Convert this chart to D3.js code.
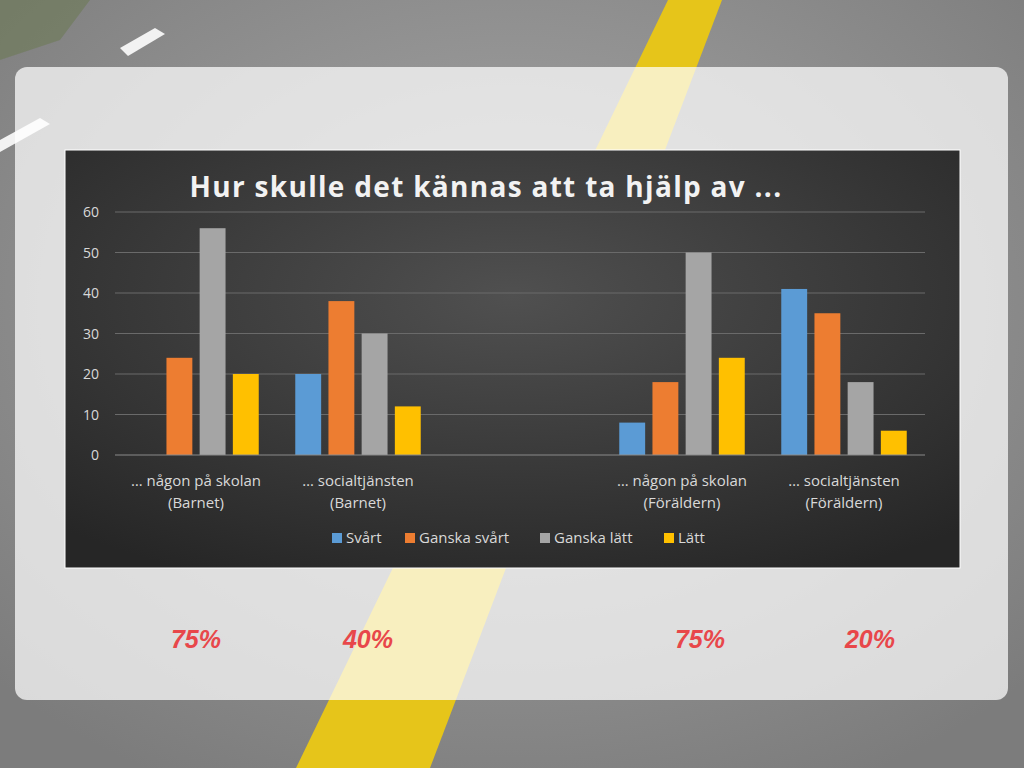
<!DOCTYPE html>
<html><head><meta charset="utf-8">
<script src="https://cdn.jsdelivr.net/npm/d3@7"></script>
<style>body{margin:0;overflow:hidden}</style>
</head><body>
<svg id="c" width="1024" height="768"></svg>
<script>
const categories = ["… någon på skolan|(Barnet)", "… socialtjänsten|(Barnet)", "", "… någon på skolan|(Föräldern)", "… socialtjänsten|(Föräldern)"];
const seriesNames = ["Svårt", "Ganska svårt", "Ganska lätt", "Lätt"];
const seriesColors = ["#5b9bd5", "#ed7d31", "#a5a5a5", "#ffc000"];
const svart = [0, 20, null, 8, 41];
const ganskaSvart = [24, 38, null, 18, 35];
const ganskaLatt = [56, 30, null, 50, 18];
const latt = [20, 12, null, 24, 6];
const yTicks = [0, 10, 20, 30, 40, 50, 60];
const percents = ["75%", "40%", "", "75%", "20%"];
const values = [svart, ganskaSvart, ganskaLatt, latt];

const svg = d3.select("#c");
const defs = svg.append("defs");

// road background
svg.append("rect").attr("width", 1024).attr("height", 768).attr("fill", "#8f8f8f");
const rg = defs.append("radialGradient").attr("id", "road").attr("cx", "50%").attr("cy", "40%").attr("r", "70%");
rg.append("stop").attr("offset", "0%").attr("stop-color", "#a8a8a8");
rg.append("stop").attr("offset", "100%").attr("stop-color", "#7c7c7c");
svg.append("rect").attr("width", 1024).attr("height", 768).attr("fill", "url(#road)");
svg.append("path").attr("d", "M0,0 L90,0 L60,40 L0,60 Z").attr("fill", "#6d7a55").attr("opacity", 0.6);
svg.append("polygon").attr("points", "668,0 722,0 430,768 296,768").attr("fill", "#e6c51a");
svg.append("polygon").attr("points", "120,48 155,28 165,34 128,56").attr("fill", "#f2f2f2");
svg.append("polygon").attr("points", "0,140 40,118 50,124 0,152").attr("fill", "#f2f2f2");

// translucent panel
svg.append("rect").attr("x", 15).attr("y", 67).attr("width", 993).attr("height", 633).attr("rx", 12)
  .attr("fill", "#ffffff").attr("opacity", 0.72);

// chart area
const cg = defs.append("radialGradient").attr("id", "chartbg").attr("cx", "50%").attr("cy", "35%").attr("r", "75%");
cg.append("stop").attr("offset", "0%").attr("stop-color", "#505050");
cg.append("stop").attr("offset", "100%").attr("stop-color", "#262626");
svg.append("rect").attr("x", 65).attr("y", 150).attr("width", 895).attr("height", 418)
  .attr("fill", "url(#chartbg)").attr("stroke", "#ffffff").attr("stroke-width", 1);

svg.append("text").attr("x", 486).attr("y", 197).attr("text-anchor", "middle")
  .attr("font-family", "Open Sans, sans-serif").attr("font-weight", "bold").attr("font-size", 28)
  .attr("letter-spacing", 1.3).attr("fill", "#f2f2f2").text("Hur skulle det kännas att ta hjälp av ...");

const x0 = d3.scaleBand().domain(d3.range(categories.length)).range([115, 925]);
const x1 = d3.scaleBand().domain(d3.range(seriesNames.length)).range([0, x0.bandwidth()]).paddingInner(0.22).paddingOuter(0.55);
const y = d3.scaleLinear().domain([0, 60]).range([455, 212]);

const g = svg.append("g").attr("font-family", "Open Sans, sans-serif");
yTicks.forEach(t => {
  if (t > 0) g.append("line").attr("x1", 115).attr("x2", 925).attr("y1", y(t)).attr("y2", y(t))
    .attr("stroke", "#6a6a6a").attr("stroke-width", 1);
  g.append("text").attr("x", 99).attr("y", y(t) + 5).attr("text-anchor", "end")
    .attr("font-size", 14).attr("fill", "#d9d9d9").text(t);
});

values.forEach((arr, s) => {
  arr.forEach((v, i) => {
    if (v == null || v === 0) return;
    g.append("rect").attr("x", x0(i) + x1(s)).attr("y", y(v))
      .attr("width", x1.bandwidth()).attr("height", y(0) - y(v)).attr("fill", seriesColors[s]);
  });
});
g.append("line").attr("x1", 115).attr("x2", 925).attr("y1", y(0)).attr("y2", y(0)).attr("stroke", "#8a8a8a");

categories.forEach((c, i) => {
  if (!c) return;
  const cx = x0(i) + x0.bandwidth() / 2;
  c.split("|").forEach((line, k) => {
    g.append("text").attr("x", cx).attr("y", 486 + k * 22).attr("text-anchor", "middle")
      .attr("font-size", 15).attr("fill", "#d9d9d9").text(line);
  });
});

// legend
const legX = [332, 405, 540, 664];
seriesNames.forEach((n, s) => {
  g.append("rect").attr("x", legX[s]).attr("y", 533).attr("width", 10).attr("height", 10).attr("fill", seriesColors[s]);
  g.append("text").attr("x", legX[s] + 14).attr("y", 543).attr("font-size", 15).attr("fill", "#d9d9d9").text(n);
});

// percentages
const pctX = [196, 368, 0, 700, 870];
percents.forEach((p, i) => {
  if (!p) return;
  svg.append("text").attr("x", pctX[i]).attr("y", 648).attr("text-anchor", "middle")
    .attr("font-family", "Liberation Sans, sans-serif").attr("font-style", "italic").attr("font-weight", "bold")
    .attr("font-size", 25).attr("fill", "#e8474a").text(p);
});
</script>
</body></html>
